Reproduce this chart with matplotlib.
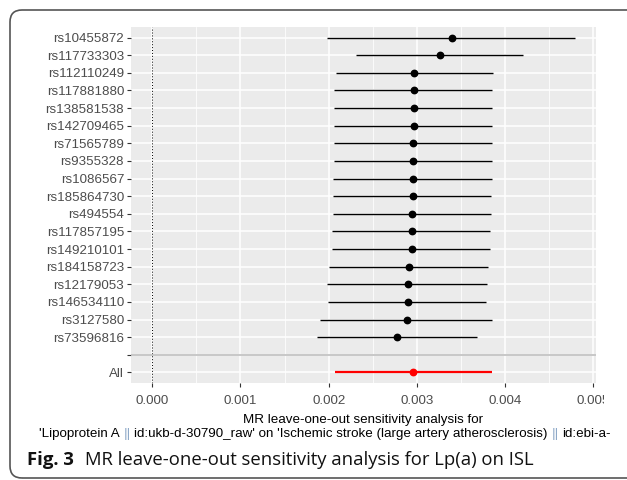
import matplotlib
matplotlib.use('Agg')
import matplotlib.pyplot as plt
from matplotlib.patches import FancyBboxPatch
from matplotlib.transforms import IdentityTransform, Bbox

snps = ['rs10455872', 'rs117733303', 'rs112110249', 'rs117881880', 'rs138581538',
        'rs142709465', 'rs71565789', 'rs9355328', 'rs1086567', 'rs185864730',
        'rs494554', 'rs117857195', 'rs149210101', 'rs184158723', 'rs12179053',
        'rs146534110', 'rs3127580', 'rs73596816']
beta = [0.003401, 0.003262, 0.002971, 0.002971, 0.002971, 0.002971, 0.002956, 0.002956,
        0.002956, 0.002956, 0.002945, 0.002945, 0.002945, 0.002914, 0.002899, 0.002899,
        0.002888, 0.002774]
lo = [0.001984, 0.002306, 0.002079, 0.002064, 0.002064, 0.002064, 0.002064, 0.002064,
      0.002049, 0.002049, 0.002049, 0.002034, 0.002034, 0.002007, 0.001984, 0.001995,
      0.001898, 0.001871]
hi = [0.004793, 0.004207, 0.003866, 0.003855, 0.003855, 0.003855, 0.003855, 0.003855,
      0.003855, 0.003840, 0.003837, 0.003825, 0.003825, 0.003810, 0.003795, 0.003780,
      0.003855, 0.003681]
all_label = 'All'
all_beta = [0.002956]
all_lo = [0.002068]
all_hi = [0.003852]
xticks = [0.000, 0.001, 0.002, 0.003, 0.004, 0.005]
xtick_labels = ['0.000', '0.001', '0.002', '0.003', '0.004', '0.005']
xminor = [0.0005, 0.0015, 0.0025, 0.0035, 0.0045]

W, H = 627, 480
fig = plt.figure(figsize=(W / 100, H / 100), dpi=100)
fig.patch.set_facecolor('white')

GG = 'Liberation Sans'
ax = fig.add_axes([131 / W, 1 - 383 / H, (596 - 131) / W, (383 - 27) / H])
ax.set_facecolor('#EBEBEB')
for s in ax.spines.values():
    s.set_visible(False)

n = len(snps)
ypos = list(range(n))
blank_y = n
all_y = n + 1

ax.set_xlim(-0.000241, 0.00503)
ax.set_ylim(all_y + 0.6, -0.6)
ax.set_xticks(xticks, xtick_labels)
ax.set_xticks(xminor, minor=True)
ax.set_yticks(list(range(n + 2)), snps + ['', all_label])
ax.grid(which='major', color='white', lw=1.1)
ax.grid(which='minor', axis='x', color='white', lw=0.55)
ax.set_axisbelow(True)
ax.tick_params(which='minor', length=0)
ax.tick_params(which='major', length=3, width=0.8, color='#333333',
               labelcolor='#4D4D4D', labelsize=9.6)
ax.tick_params(axis='x', pad=6)
ax.tick_params(axis='y', pad=2)
for lab in ax.get_xticklabels() + ax.get_yticklabels():
    lab.set_family(GG)

ax.axvline(0, color='black', ls=(0, (1, 2)), lw=0.7, zorder=2)
ax.axhline(blank_y, color='#BEBEBE', lw=1.2, zorder=2)

ax.hlines(ypos, lo, hi, color='black', lw=1.0, zorder=3)
ax.plot(beta, ypos, 'o', color='black', ms=4.6, zorder=4)
ax.hlines([all_y], all_lo, all_hi, color='#FF0000', lw=1.6, zorder=3)
ax.plot(all_beta, [all_y], 'o', color='#FF0000', ms=4.6, zorder=4)

clipbb = Bbox([[0, 0], [604, H]])
for t in ax.xaxis.get_major_ticks():
    t.label1.set_clip_on(True)
    t.label1.set_clip_box(clipbb)

# axis title
fig.text(363.5 / W, 1 - 420 / H, 'MR leave-one-out sensitivity analysis for',
         ha='center', va='center', fontsize=9.6, family=GG, color='black')

pieces = ["'Lipoprotein A", "||",
          "id:ukb-d-30790_raw' on 'Ischemic stroke (large artery atherosclerosis)",
          "||", "id:ebi-a-"]
colors = ['black', '#8EA9C8', 'black', '#8EA9C8', 'black']
prev = fig.text(39 / W, 1 - 434 / H, pieces[0], ha='left', va='center',
                fontsize=9.6, family=GG, color=colors[0])
sp = 9.6 * 0.278
for p, c in zip(pieces[1:], colors[1:]):
    a = ax.annotate(p, xy=(1, 0), xycoords=prev, xytext=(sp, 0),
                    textcoords='offset points', ha='left', va='bottom',
                    fontsize=9.6, family=GG, color=c, annotation_clip=False)
    prev = a

# caption
cap = fig.text(27 / W, 1 - 460 / H, 'Fig. 3', ha='left', va='center',
               fontsize=13.3, family='Open Sans', weight='bold', color='#111111')
ax.annotate('MR leave-one-out sensitivity analysis for Lp(a) on ISL', xy=(1, 0),
            xycoords=cap, xytext=(8, 0), textcoords='offset points',
            ha='left', va='bottom', fontsize=13.3, family='Open Sans',
            color='#111111', annotation_clip=False)

box = FancyBboxPatch((10, 2), 700, 468, boxstyle='round,pad=0,rounding_size=12',
                     transform=IdentityTransform(), fill=False, ec='#555555', lw=1.2)
fig.add_artist(box)

fig.savefig('out.png', dpi=100)
